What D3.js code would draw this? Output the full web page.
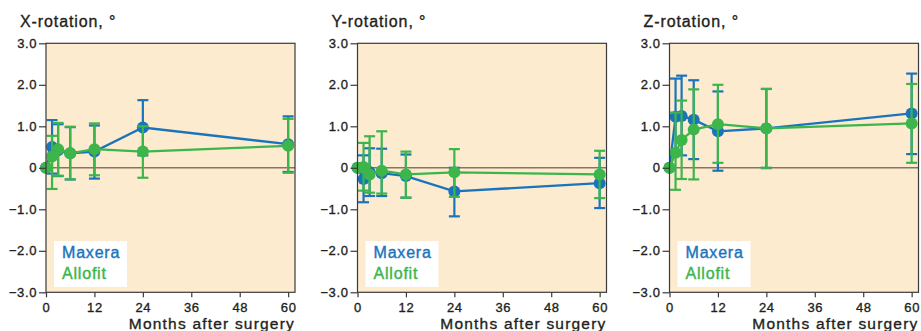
<!DOCTYPE html>
<html lang="en">
<head>
    <meta charset="UTF-8">
    <title>Rotation after surgery</title>
    <script src="https://cdn.jsdelivr.net/npm/d3@7"></script>
    <style>
        body {
            margin: 0;
            background-color: #ffffff;
        }

        svg {
            display: block;
            font-family: "Liberation Sans", Arial, sans-serif;
        }
    </style>
</head>
<body>
    <svg id="chart" width="921" height="331"></svg>

    <script>
        const months = [0, 1.5, 3, 6, 12, 24, 60];
        const xTicks = [0, 12, 24, 36, 48, 60];
        const yTicks = [-3, -2, -1, 0, 1, 2, 3];
        const yTickLabels = ["\u22123.0", "\u22122.0", "\u22121.0", "0", "1.0", "2.0", "3.0"];
        const titles = ["X-rotation, \u00b0", "Y-rotation, \u00b0", "Z-rotation, \u00b0"];
        const seriesNames = ["Maxera", "Allofit"];

        // X-rotation
        const xMaxeraMean = [0, 0.50, 0.42, 0.35, 0.39, 0.97, 0.57];
        const xMaxeraLow  = [0, -0.14, -0.20, -0.28, -0.26, 0.30, -0.10];
        const xMaxeraHigh = [0, 1.15, 1.05, 0.98, 1.02, 1.63, 1.24];
        const xAllofitMean = [0, 0.27, 0.45, 0.35, 0.45, 0.39, 0.53];
        const xAllofitLow  = [0, -0.51, -0.19, -0.28, -0.18, -0.24, -0.12];
        const xAllofitHigh = [0, 0.77, 1.08, 0.99, 1.07, 1.00, 1.18];

        // Y-rotation
        const yMaxeraMean = [0, -0.27, -0.10, -0.13, -0.20, -0.57, -0.37];
        const yMaxeraLow  = [0, -0.83, -0.68, -0.68, -0.72, -1.17, -0.97];
        const yMaxeraHigh = [0, 0.30, 0.47, 0.46, 0.32, 0.00, 0.24];
        const yAllofitMean = [0, 0.02, -0.16, -0.07, -0.16, -0.11, -0.16];
        const yAllofitLow  = [0, -0.55, -0.60, -0.62, -0.72, -0.70, -0.73];
        const yAllofitHigh = [0, 0.60, 0.76, 0.88, 0.39, 0.45, 0.41];

        // Z-rotation
        const zMaxeraMean = [0, 1.23, 1.25, 1.16, 0.88, 0.95, 1.31];
        const zMaxeraLow  = [0, 0.31, 0.30, 0.21, -0.07, 0.00, 0.33];
        const zMaxeraHigh = [0, 2.15, 2.22, 2.11, 1.84, 1.90, 2.27];
        const zAllofitMean = [0, 0.36, 0.67, 0.92, 1.05, 0.95, 1.07];
        const zAllofitLow  = [0, -0.53, -0.27, -0.28, 0.12, -0.01, 0.12];
        const zAllofitHigh = [0, 1.33, 1.62, 1.89, 2.00, 1.90, 2.02];

        const colors = ["#1a74bc", "#3cb54a"];

        const panels = [
            [[xMaxeraMean, xMaxeraLow, xMaxeraHigh], [xAllofitMean, xAllofitLow, xAllofitHigh]],
            [[yMaxeraMean, yMaxeraLow, yMaxeraHigh], [yAllofitMean, yAllofitLow, yAllofitHigh]],
            [[zMaxeraMean, zMaxeraLow, zMaxeraHigh], [zAllofitMean, zAllofitLow, zAllofitHigh]]
        ];

        const panelLefts = [46, 357.5, 669.5];
        const plotW = 249;
        const plotTop = 43.3;
        const plotBottom = 292.3;
        const textColor = "#231f20";

        const svg = d3.select("#chart");

        panels.forEach((series, i) => {
            const left = panelLefts[i];
            const g = svg.append("g");

            const x = d3.scaleLinear().domain([0, 61.7]).range([left, left + plotW]);
            const y = d3.scaleLinear().domain([-3, 3]).range([plotBottom, plotTop]);

            g.append("rect")
                .attr("x", left)
                .attr("y", plotTop)
                .attr("width", plotW)
                .attr("height", plotBottom - plotTop)
                .attr("fill", "#fdebd0");

            g.append("line")
                .attr("x1", left)
                .attr("x2", left + plotW)
                .attr("y1", y(0))
                .attr("y2", y(0))
                .attr("stroke", "#857565")
                .attr("stroke-width", 1.6);

            series.forEach(([mean, low, high], s) => {
                const pts = months.map((m, k) => ({ m, v: mean[k], lo: low[k], hi: high[k] }));
                const sg = g.append("g");

                sg.append("path")
                    .datum(pts)
                    .attr("fill", "none")
                    .attr("stroke", colors[s])
                    .attr("stroke-width", 2.3)
                    .attr("d", d3.line().x(d => x(d.m)).y(d => y(d.v)));

                const bars = pts.filter(d => d.hi !== d.lo);

                sg.selectAll(".err")
                    .data(bars)
                    .join("line")
                    .attr("x1", d => x(d.m))
                    .attr("x2", d => x(d.m))
                    .attr("y1", d => y(d.lo))
                    .attr("y2", d => y(d.hi))
                    .attr("stroke", colors[s])
                    .attr("stroke-width", 2.2);

                ["lo", "hi"].forEach(key => {
                    sg.selectAll(".cap-" + key)
                        .data(bars)
                        .join("line")
                        .attr("x1", d => x(d.m) - 5.5)
                        .attr("x2", d => x(d.m) + 5.5)
                        .attr("y1", d => y(d[key]))
                        .attr("y2", d => y(d[key]))
                        .attr("stroke", colors[s])
                        .attr("stroke-width", 2.2);
                });

                sg.selectAll("circle")
                    .data(pts)
                    .join("circle")
                    .attr("cx", d => x(d.m))
                    .attr("cy", d => y(d.v))
                    .attr("r", 6)
                    .attr("fill", colors[s]);
            });

            // frame
            g.append("rect")
                .attr("x", left)
                .attr("y", plotTop)
                .attr("width", plotW)
                .attr("height", plotBottom - plotTop)
                .attr("fill", "none")
                .attr("stroke", "#3a3a3a")
                .attr("stroke-width", 1.2);

            const yAxis = g.append("g")
                .attr("transform", `translate(${left},0)`)
                .call(d3.axisLeft(y)
                    .tickValues(yTicks)
                    .tickFormat((d, k) => yTickLabels[k])
                    .tickSize(7)
                    .tickPadding(2));

            const xAxis = g.append("g")
                .attr("transform", `translate(0,${plotBottom})`)
                .call(d3.axisBottom(x)
                    .tickValues(xTicks)
                    .tickSize(5)
                    .tickPadding(5));

            [yAxis, xAxis].forEach(ax => {
                ax.select(".domain").remove();
                ax.selectAll(".tick line").attr("stroke", "#3a3a3a").attr("stroke-width", 1.2);
                ax.selectAll(".tick text")
                    .attr("fill", textColor)
                    .attr("stroke", textColor)
                    .attr("stroke-width", 0.35)
                    .attr("font-size", "13px")
                    .attr("letter-spacing", "0.6px")
                    .attr("font-family", "Liberation Sans, Arial, sans-serif");
            });

            g.append("text")
                .attr("x", left - 26)
                .attr("y", 27)
                .attr("font-size", "16px")
                .attr("letter-spacing", "0.9px")
                .attr("fill", textColor)
                .attr("stroke", textColor)
                .attr("stroke-width", 0.35)
                .text(titles[i]);

            g.append("text")
                .attr("x", left + plotW)
                .attr("y", 328.5)
                .attr("text-anchor", "end")
                .attr("font-size", "15.5px")
                .attr("letter-spacing", "1.2px")
                .attr("fill", textColor)
                .attr("stroke", textColor)
                .attr("stroke-width", 0.35)
                .text("Months after surgery");

            // legend
            g.append("rect")
                .attr("x", left + 8)
                .attr("y", 241)
                .attr("width", 73)
                .attr("height", 46)
                .attr("fill", "#ffffff");

            seriesNames.forEach((name, s) => {
                g.append("text")
                    .attr("x", left + 16)
                    .attr("y", 258 + s * 21)
                    .attr("font-size", "16px")
                    .attr("letter-spacing", "0.8px")
                    .attr("fill", colors[s])
                    .attr("stroke", colors[s])
                    .attr("stroke-width", 0.4)
                    .text(name);
            });
        });
    </script>
</body>
</html>
